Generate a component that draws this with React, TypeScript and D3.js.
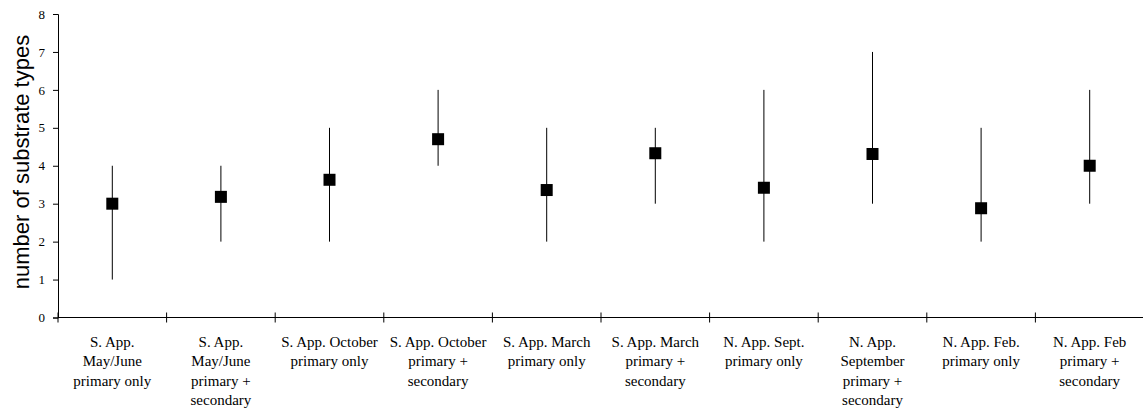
import React, { useRef, useEffect } from "react";
import * as d3 from "d3";

// category labels, one array of lines per category
const categories: string[][] = [
  ["S. App.", "May/June", "primary only"],
  ["S. App.", "May/June", "primary +", "secondary"],
  ["S. App. October", "primary only"],
  ["S. App. October", "primary +", "secondary"],
  ["S. App. March", "primary only"],
  ["S. App. March", "primary +", "secondary"],
  ["N. App. Sept.", "primary only"],
  ["N. App.", "September", "primary +", "secondary"],
  ["N. App. Feb.", "primary only"],
  ["N. App. Feb", "primary +", "secondary"],
];
const means = [3.0, 3.18, 3.63, 4.7, 3.36, 4.33, 3.42, 4.31, 2.88, 4.0];
const mins = [1, 2, 2, 4, 2, 3, 2, 3, 2, 3];
const maxs = [4, 4, 5, 6, 5, 5, 6, 7, 5, 6];
const yTicks = [0, 1, 2, 3, 4, 5, 6, 7, 8];

export default function App() {
  const ref = useRef<SVGSVGElement>(null);

  useEffect(() => {
    const svg = d3.select(ref.current);
    svg.selectAll("*").remove();

    const left = 58;
    const right = 1144;
    const top = 14;
    const bottom = 317.5;

    const x = d3
      .scaleBand<number>()
      .domain(d3.range(categories.length))
      .range([left, right]);
    const y = d3.scaleLinear().domain([0, 8]).range([bottom, top]);

    const serif = "'Liberation Serif', 'Times New Roman', serif";

    // y axis
    const yAxis = svg
      .append("g")
      .attr("transform", `translate(${left},0)`)
      .call(d3.axisLeft(y).tickValues(yTicks).tickSize(5).tickPadding(8));
    yAxis.select(".domain").attr("stroke", "#000");
    yAxis.selectAll(".tick line").attr("stroke", "#000");
    yAxis
      .selectAll(".tick text")
      .attr("font-family", serif)
      .attr("font-size", 13)
      .attr("fill", "#000");

    // x axis line and ticks crossing it
    svg
      .append("line")
      .attr("x1", left)
      .attr("x2", right)
      .attr("y1", bottom)
      .attr("y2", bottom)
      .attr("stroke", "#000");
    const bounds = d3.range(categories.length + 1).map((i) =>
      i < categories.length ? x(i)! : x(categories.length - 1)! + x.bandwidth()
    );
    svg
      .append("g")
      .selectAll("line")
      .data(bounds)
      .join("line")
      .attr("x1", (d) => d)
      .attr("x2", (d) => d)
      .attr("y1", bottom - 5)
      .attr("y2", bottom + 5)
      .attr("stroke", "#000");

    // category labels
    const labels = svg
      .append("g")
      .selectAll("text")
      .data(categories)
      .join("text")
      .attr("text-anchor", "middle")
      .attr("font-family", serif)
      .attr("font-size", 15)
      .attr("fill", "#000");
    labels
      .selectAll("tspan")
      .data((d, i) => d.map((line) => ({ line, i })))
      .join("tspan")
      .attr("x", (d) => x(d.i)! + x.bandwidth() / 2)
      .attr("y", (_, j) => 347 + j * 19.3)
      .text((d) => d.line);

    // range lines
    svg
      .append("g")
      .selectAll("line")
      .data(means)
      .join("line")
      .attr("x1", (_, i) => x(i)! + x.bandwidth() / 2)
      .attr("x2", (_, i) => x(i)! + x.bandwidth() / 2)
      .attr("y1", (_, i) => y(mins[i]))
      .attr("y2", (_, i) => y(maxs[i]))
      .attr("stroke", "#000")
      .attr("stroke-width", 1);

    // mean markers
    const s = 12;
    svg
      .append("g")
      .selectAll("rect")
      .data(means)
      .join("rect")
      .attr("x", (_, i) => x(i)! + x.bandwidth() / 2 - s / 2)
      .attr("y", (d) => y(d) - s / 2)
      .attr("width", s)
      .attr("height", s)
      .attr("fill", "#000");

    // y axis title
    svg
      .append("text")
      .attr("transform", "translate(29,162) rotate(-90)")
      .attr("text-anchor", "middle")
      .attr("font-family", "'Liberation Sans', Arial, sans-serif")
      .attr("font-size", 22)
      .attr("fill", "#000")
      .text("number of substrate types");
  }, []);

  return (
    <svg
      ref={ref}
      width={1143}
      height={412}
      style={{ position: "absolute", left: 0, top: 0, background: "#fff" }}
    />
  );
}
